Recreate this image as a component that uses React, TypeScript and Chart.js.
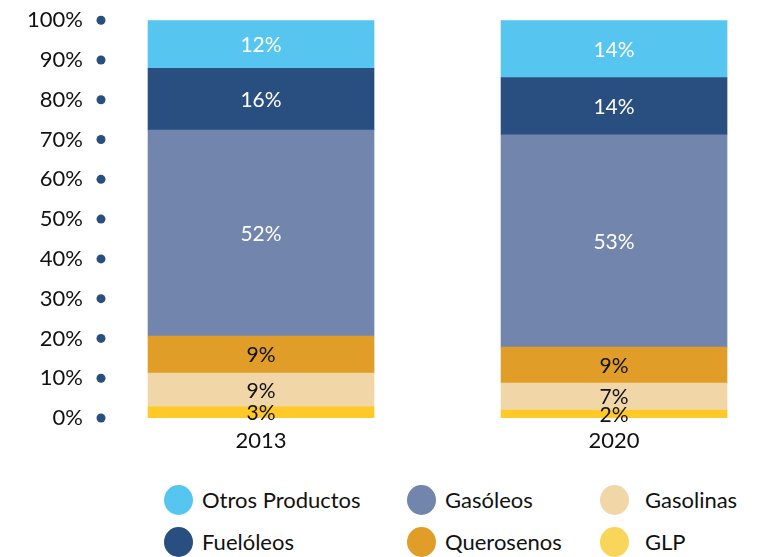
import React, { useEffect, useRef } from "react";
import { Chart, registerables } from "chart.js";

Chart.register(...registerables);

const years = ["2013", "2020"];
const glp = [2.8, 2.0];
const gasolinas = [8.5, 6.8];
const querosenos = [9.3, 9.0];
const gasoleos = [51.8, 53.4];
const fueloleos = [15.5, 14.4];
const otros = [12.1, 14.4];
const yTicks = [0, 10, 20, 30, 40, 50, 60, 70, 80, 90, 100];

const seriesNames = ["GLP", "Gasolinas", "Querosenos", "Gasóleos", "Fuelóleos", "Otros Productos"];
const seriesValues = [glp, gasolinas, querosenos, gasoleos, fueloleos, otros];
const seriesColors = ["#ffca28", "#f1d7a8", "#e09e28", "#7285ad", "#294e80", "#56c5f0"];
const labelColors = ["#111", "#111", "#111", "#fff", "#fff", "#fff"];
const legendSwatch: Record<string, string> = {
  "Otros Productos": "#56c5f0",
  "Gasóleos": "#7285ad",
  "Gasolinas": "#f1d7a8",
  "Fuelóleos": "#294e80",
  "Querosenos": "#e09e28",
  "GLP": "#f9d55a",
};
const legendRows = [
  ["Otros Productos", "Gasóleos", "Gasolinas"],
  ["Fuelóleos", "Querosenos", "GLP"],
];

const FONT = "Lato";

export default function App() {
  const ref = useRef<HTMLCanvasElement | null>(null);

  useEffect(() => {
    document.body.style.margin = "0";
    const canvas = ref.current;
    if (!canvas) return;

    const dotsPlugin = {
      id: "axisDots",
      afterDraw(chart: any) {
        const ys = chart.scales.y;
        const ctx = chart.ctx;
        ctx.save();
        ctx.fillStyle = "#294e80";
        ys.ticks.forEach((t: any) => {
          const py = ys.getPixelForValue(t.value);
          ctx.beginPath();
          ctx.arc(chart.chartArea.left - 9, py, 4.5, 0, Math.PI * 2);
          ctx.fill();
        });
        ctx.restore();
      },
    };

    const valuePlugin = {
      id: "valueLabels",
      afterDatasetsDraw(chart: any) {
        const ctx = chart.ctx;
        ctx.save();
        ctx.font = `21px ${FONT}`;
        ctx.textAlign = "center";
        ctx.textBaseline = "middle";
        chart.data.datasets.forEach((ds: any, i: number) => {
          const meta = chart.getDatasetMeta(i);
          meta.data.forEach((el: any, j: number) => {
            const p = el.getProps(["x", "y", "base"], true);
            ctx.fillStyle = labelColors[i];
            ctx.fillText(Math.round(seriesValues[i][j]) + "%", p.x, (p.y + p.base) / 2 + 1);
          });
        });
        ctx.restore();
      },
    };

    const chart = new Chart(canvas, {
      type: "bar",
      data: {
        datasets: seriesNames.map((name, i) => ({
          label: name,
          data: years.map((_, j) => ({ x: j, y: seriesValues[i][j] })),
          backgroundColor: seriesColors[i],
          borderWidth: 0,
          barThickness: 226,
        })),
      },
      options: {
        animation: false,
        responsive: true,
        maintainAspectRatio: false,
        layout: { padding: { top: 2, right: 15, left: 0, bottom: 0 } },
        plugins: { legend: { display: false }, tooltip: { enabled: false } },
        scales: {
          x: {
            type: "linear",
            stacked: true,
            offset: false,
            min: -0.4278,
            max: 1.371,
            grid: { display: false, drawTicks: false, offset: false },
            border: { display: false },
            afterBuildTicks: (s: any) => {
              s.ticks = years.map((_, i) => ({ value: i }));
            },
            afterFit: (s: any) => {
              s.height = 52;
            },
            ticks: {
              padding: 10,
              color: "#111",
              font: { family: FONT, size: 22 },
              callback: (v: any) => years[v as number],
            },
          },
          y: {
            stacked: true,
            min: 0,
            max: 100,
            grid: { display: false, drawTicks: false },
            border: { display: false },
            afterBuildTicks: (s: any) => {
              s.ticks = yTicks.map((v) => ({ value: v }));
            },
            afterFit: (s: any) => {
              s.width = 110;
            },
            ticks: {
              padding: 27,
              color: "#111",
              font: { family: FONT, size: 22 },
              callback: (v: any) => v + "%",
            },
          },
        },
      },
      plugins: [dotsPlugin, valuePlugin],
    } as any);

    return () => chart.destroy();
  }, []);

  const colSwatchLeft = [164, 407, 600];
  const colTextLeft = [202, 445, 645];
  const rowCenter = [500, 542];

  return (
    <div style={{ position: "relative", width: 760, height: 557, overflow: "hidden", background: "#fff" }}>
      <div style={{ position: "absolute", left: 0, top: -20, width: 760, height: 490 }}>
        <canvas ref={ref} />
      </div>
      {legendRows.map((row, r) =>
        row.map((name, c) => (
          <React.Fragment key={name}>
            <div
              style={{
                position: "absolute",
                left: colSwatchLeft[c],
                top: rowCenter[r] - 15,
                width: 29,
                height: 30,
                borderRadius: "50%",
                background: legendSwatch[name],
              }}
            />
            <div
              style={{
                position: "absolute",
                left: colTextLeft[c],
                top: rowCenter[r] - 14,
                height: 28,
                lineHeight: "28px",
                fontFamily: FONT,
                fontSize: 22,
                color: "#111",
                whiteSpace: "nowrap",
              }}
            >
              {name}
            </div>
          </React.Fragment>
        ))
      )}
    </div>
  );
}
